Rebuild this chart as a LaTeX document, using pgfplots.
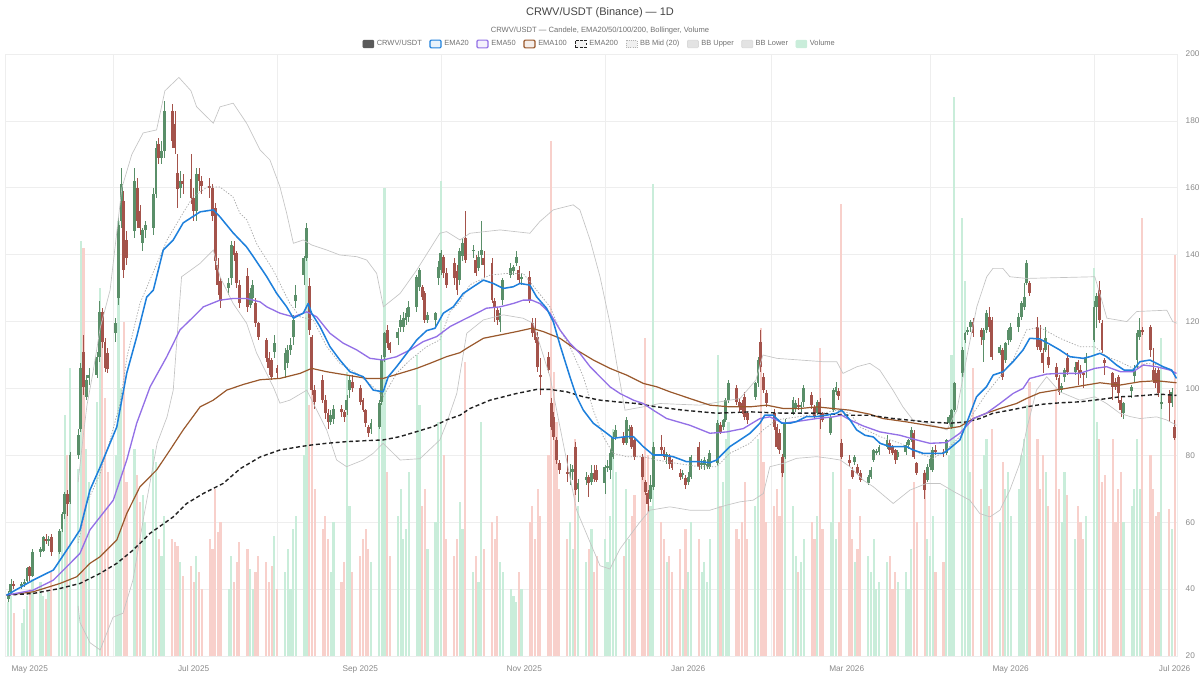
\documentclass[border=0pt]{standalone}
\usepackage{fontspec}
\setmainfont{Liberation Sans}
\usepackage{pgfplots}
\usepackage{pgfplotstable}
\pgfplotsset{compat=1.18}
\definecolor{upc}{HTML}{5A8F69}
\definecolor{dnc}{HTML}{A4534B}
\definecolor{volup}{HTML}{C9EDDA}
\definecolor{voldn}{HTML}{F8D0CB}
\definecolor{emaA}{HTML}{1E80DC}
\definecolor{emaB}{HTML}{9370E6}
\definecolor{emaC}{HTML}{99582C}
\definecolor{emaD}{HTML}{222222}
\definecolor{bbc}{HTML}{C4C4C4}
\definecolor{bbm}{HTML}{A8A8A8}
\definecolor{gridc}{HTML}{EEEEEE}
\definecolor{labc}{HTML}{8A8A8A}
\definecolor{legc}{HTML}{707070}
\definecolor{titc}{HTML}{444444}
\definecolor{candc}{HTML}{5A5A5A}

\pgfplotstableread{
t o h l c v
-8 37 39.5 36 38.5 36
-7 39 43 38.5 41.5 38
-6 41.5 42.5 40 41 33
-3 41 42 40 41.5 30
-2 41.5 43 40.5 42 34
-1 42.3 46.5 41.5 46.3 38
0 46.5 47 42.5 43.8 40
1 44 52 43.5 51 43
4 51 52.5 49.5 52 42
5 51.5 56 51 55.5 38
6 55 56.5 53.5 54.5 37
7 54.5 56 53 55 39
8 55.5 56.5 50 51 45
11 51 58 50.5 57.5 55
12 58 63 57 62.5 60
13 62.5 69 61 68.5 92
14 68.5 69.5 62 65.5 80
15 66 81 65.5 80 106
18 80 88 79 86 76
19 88 107.5 87 106 144
20 111 116 98 100.5 142
21 97.5 104 96.5 102.5 82
22 103 106 101 104 72
25 104 111 103 109.5 96
26 109.5 126 108 123 130
27 123 124 112 114 121
28 114 115 105 106 97
29 110.5 112 104.5 105.8 75
32 116.5 121 114 119.5 80
33 127 151 125 149 150
34 150 166 148 161 100
35 156 159 133 135.5 120
36 144.5 147 137 139 72
39 147 166 145 162 82
40 160 163 148 150 74
41 153 155 146 148 66
42 143.5 148 141 147.5 68
43 147.5 150 145 149 60
46 148 160 146 158 82
47 158 174 157 172 78
48 173 175 167 169 55
49 169 174 167 171 50
50 171 186 169 183 62
53 183 185 172 174 55
54 179 183 170 172 54
55 164.5 170 154 159.5 53
56 160 165 157 162 48
57 162 164 158 161 44
60 162.5 170 155 157 47
61 157 160 150 153 42
62 153 166 150 164 50
63 164 166 159 162 45
64 162 163.5 158 160.5 40
67 160.5 163 157 160 55
68 160 161 150 151.5 52
69 154 155.5 135.5 138 70
70 137 139 128 131 57
71 132 133 124 126 60
74 130 133 128 131.5 40
75 133 144 131 143 50
76 142.5 144 138 140 42
77 140.5 141 130 131.5 48
78 131 132.5 124 125.5 54
81 133.5 136 123 124.5 52
82 125 130 124 128.5 46
83 127 132.5 125.5 131 40
84 125.5 127 118.5 119.5 45
85 119.5 120 114.5 115.5 50
88 114.5 115 108 109 48
89 109 111 104 106 42
90 108.5 109 102.5 103.5 47
91 111 116 109 113.5 56
92 106 107 103 104.6 40
95 105.5 112 103 110.5 45
96 107.5 113 106 111.5 52
97 111.5 115 110 113 40
98 115.5 122 113 120.5 58
99 126 131 124 128 62
102 134 139.5 131 139 80
103 139 149.5 138 148 148
104 130.5 133 116 117.5 95
105 115.5 116 98 99.5 110
106 99.5 101 94 96 70
109 102.5 104 95.5 96.5 58
110 96.5 98 91 92.6 62
111 92.6 94 88 90 55
112 90 93.5 89 92 45
113 91 95 89.5 94 60
116 94 95 91.5 93 42
117 93 93.5 90 91.5 48
118 93.5 98 92 96.5 105
119 99.5 104 97 102.5 65
120 102 104 99 100 45
123 100 101 95 96 50
124 96.5 97 93 93.5 55
125 93.5 94 88.5 89.6 58
126 88.5 89 85.5 86.8 52
127 88 91 86.5 89.6 48
130 88.5 96.5 88 95.6 90
131 96 110 95 108.5 105
132 109.5 117 108 116.6 160
133 117.5 119 112 113.6 75
134 113.6 114 110.5 111.5 50
137 115 118 113 117 62
138 118.4 122 117 120.5 70
139 118.4 123 117 121 55
140 120.5 124 119 122.5 58
141 121.4 126 120 124.3 75
144 124.3 134 123 133.3 110
145 130.3 136 129 135.4 95
146 130.3 131 126.5 127.3 65
147 128.5 129 119.5 120.5 70
148 120.5 123 119.5 122 52
151 120.5 123 118 122.5 60
152 133 138 131 136.3 90
153 135.4 141.5 134 140.5 162
154 139.3 140 133 134.5 80
155 134.5 136 130 131 55
158 137.5 139 131 133 50
159 135 137 128 129.5 55
160 132.5 142 131 141 66
161 139.5 145 138 143.5 58
162 145 153 137.5 138.5 108
165 141 143 139 141.5 45
166 138.5 140 133.5 134.5 50
167 136 141 135 139.3 42
168 140 150 137 141.4 90
169 139 141 133 137 52
172 137.5 139 125.5 126.5 60
173 126 127 120 124.3 55
174 123.4 124.5 119 120.5 62
175 120 124 117 122.5 48
176 126.5 133 125 132.4 45
179 134 137.5 133 136 40
180 135 137 134 136.3 38
181 137.5 141 136.5 139.3 36
182 135.4 136.5 131.5 132.4 45
183 133 134.5 131 133.3 40
186 133.3 135 125.5 126.4 60
187 119.5 121 115.5 116.6 65
188 118.4 121 113.5 114.5 55
189 115.4 117 105 106.4 70
190 104 109 98 103.4 62
193 109.4 111 104.5 105.5 80
194 95.6 97 87.5 88.5 174
195 91.5 93 84.5 85.5 105
196 84.6 85.5 77.5 78.6 90
197 77.6 78.5 74.5 75.6 70
200 75 80 72 74.5 55
201 74.5 77.5 71 75 60
202 75 77 72.5 76 52
203 82.5 84 68 69.6 85
204 70 73 66 71.7 65
207 72.5 75 71 73.5 48
208 73.5 74 67.5 71.7 52
209 72 77 71 74.7 58
210 74.7 77 72 73 45
211 75.6 77 72 72.6 50
214 71.7 77 68.5 76.5 55
215 76.5 78.5 75 76.5 48
216 75.6 82 73 80.7 62
217 79.5 87 79 85.5 88
218 85.5 89 84.5 87.5 75
221 85.5 87 83 83.7 50
222 83.7 91.5 83 90.5 70
223 87.6 89 85 87.6 55
224 88.5 89 82 82.5 62
225 84.6 85 78.5 79.5 68
228 79.5 80.5 72.5 73.5 75
229 72 72.5 68 69 115
230 68.7 69.5 63 65.5 80
231 67 74 66 71 65
232 70.5 84 69.5 82.5 161
235 82.5 86 80 81.5 60
236 81.5 82.5 78.5 79.5 55
237 79.5 81 77.5 80.5 48
238 79.5 80.5 76 77.5 50
239 78.5 79 75.5 76.2 45
242 74.7 76 72.5 73.5 52
243 74 75.5 73 74.7 40
244 73.2 74 70 71.1 58
245 72 75 71 73.5 45
246 73.5 80 73 79.5 60
249 82.5 84 75.5 76.5 55
250 77 79 76 77.7 45
251 77 79.5 75.5 78.6 48
252 77 79 76 77.5 42
253 76.5 81.5 76 80.7 55
256 77.7 90.5 77 89.6 110
257 89 90 86.5 87 65
258 88.5 91 87.5 90.5 72
259 90.5 97 90 96.5 85
260 96.5 102.5 95.5 101.6 90
263 100 101 95 96 58
264 96 97 93 94.5 55
265 95.6 96.5 92.5 93.5 60
266 97.5 99 90.5 91.5 72
267 92.6 93 89.5 90.5 55
270 97.5 102 96.5 101.6 65
271 101.6 109.5 100.5 108.5 85
272 113.9 117.5 105 106.4 118
273 103.4 104.5 98.5 99.5 78
274 98.6 99.5 94.5 95.6 60
277 92.6 94 87.5 88.5 65
278 88.5 89.5 82 82.5 70
279 86.7 88 80.5 81.6 62
280 79.5 80.5 73.5 74.7 75
281 79.5 91 79 89.6 80
284 92.6 97.5 92 96.5 65
285 94 96.5 93 95.6 50
286 95 97 93.5 94.5 45
287 94.5 96 93 95 48
288 96 101 94.5 100 55
291 98 99 94 95 60
292 94.5 95 91 91.5 55
293 92.6 96.5 92 96 62
294 96 97 88 92.6 112
295 92.6 93 90 90.5 58
298 86.6 92 86 91.5 60
299 93.5 100 93 99.5 75
300 99 102 98 100.5 55
301 99.1 100 96.5 97.6 60
302 83.7 85 79 79.5 155
305 78.6 80 76.5 77.6 70
306 75.6 76.5 73 73.5 55
307 77.9 80 77 79.5 48
308 76.5 77.5 74 74.7 52
309 74.7 75.5 72 72.6 62
312 71.7 74 71 73.5 50
313 73.5 76.5 73 75.5 45
314 78.6 82 78 81.6 55
315 81 82 80 81 40
316 81 83 80 82.5 42
319 82.5 86 82 84.6 48
320 83.7 84.5 80.5 81.6 50
321 82.5 83 80 80.7 40
322 81.6 82 77.5 78.6 45
323 79.5 81.5 78.5 81 42
326 81 84 80 83 45
327 83 85 82 84.5 40
328 84.6 88.5 84 87.6 52
329 86.7 87.5 79 79.5 72
330 77.6 78 74 74.7 60
333 74.7 75.5 67 69.6 75
334 72.6 77.5 72 76.5 55
335 76.5 80 75.5 79 50
336 75.6 82.5 75 81.6 62
337 81.6 83 80 81 45
340 81 82 79.5 80.7 48
341 80.7 85 80 84.6 70
342 89.6 92 89 91.5 80
343 88.5 94 88 93.5 110
344 93.5 102 93 101.6 187
347 104.6 112.5 103.5 111.5 151
348 114.5 117 113.5 116.6 132
349 117 118.5 116 117.5 90
350 118.4 120.5 117 119.9 75
351 119.9 121 115.5 116.6 106
354 117.5 118 113 115.4 70
355 114.5 118 108 117.5 80
356 117.5 123.5 116.5 122.5 85
357 121.4 124.5 117 118.4 65
358 120.5 121.5 108.5 109.4 88
361 110.6 113 110 112.4 60
362 111.5 112 102.5 103.4 78
363 108.5 114 107.5 113.6 70
364 114.5 118 113 117.5 75
365 114.5 119.5 114 118.4 62
368 118.4 122.5 117 121.4 70
369 121.4 126 120.5 125.5 80
370 124.3 131.5 123.5 127.3 85
371 131.5 138.5 131 137.5 95
372 131.5 132 127.5 128.5 102
375 118.4 121.5 111.5 112.4 85
376 114.5 119 111 111.5 70
377 110.6 112 104.5 107.6 80
378 111.5 118.5 111 115 75
379 109.4 113 106 107 65
382 106.4 107.5 102.5 103.4 100
383 103 104 98 99 70
384 99.5 101.5 98.5 100.6 60
385 103.4 106 102 105.5 75
386 109.1 110.5 104 104.9 68
389 105 108 104 106.5 55
390 107.9 108.5 101 105.5 65
391 105.5 107 103 104.5 60
392 104.5 105 100 104 55
393 107.5 110.5 103 109.1 62
396 114.5 126 114 124.3 136
397 124.3 128.5 118 127.5 90
398 129.4 132 119.5 120.5 85
399 119.5 120.5 110.5 111.5 72
400 108.5 109 104 107.6 74
403 104.6 105 96.5 100.4 85
404 101.9 103 99.5 100.4 60
405 103.4 104 95.5 98.6 70
406 96.5 97.5 91.5 93.5 75
407 92.6 96 91 95.6 60
410 99.1 101 97 100.4 65
411 103.7 107 101.5 105.5 70
412 108.5 117.5 106 116.6 85
413 115.4 121 114.5 117.5 70
414 117.5 118.5 116 117 151
417 118.4 119 109.5 111.5 80
418 105.5 112 101.5 102.5 70
419 104.6 106 100 101.6 62
420 105.5 106.5 97.5 98.6 63
421 95.6 98 94 95.9 115
424 98 99.5 90 95.6 64
425 95.6 100 94.5 98.9 58
426 88.5 90.5 84.5 85.2 140
}\candles

\begin{document}
\begin{tikzpicture}[x=1pt,y=1pt]
\begin{axis}[
  at={(0,0)}, anchor=south west, scale only axis,
  width=879pt, height=451.5pt,
  xmin=-9.2, xmax=426.9, ymin=20, ymax=200,
  xtick={0,61,123,184,245,304,365,426},
  xticklabels={May 2025,Jul 2025,Sep 2025,Nov 2025,Jan 2026,Mar 2026,May 2026,Jul 2026},
  extra x ticks={31,92,153,214,276,335,396},
  extra x tick labels={},
  extra x tick style={grid=major},
  ytick={20,40,...,200},
  yticklabel pos=right,
  ymajorgrids,
  grid style={color=gridc, line width=0.5pt},
  major tick length=0pt,
  tick style={draw=none},
  tick label style={font=\fontsize{6.2}{7}\selectfont, text=labc},
  /pgf/number format/assume math mode=true,
  xticklabel style={yshift=-3.5pt},
  yticklabel style={xshift=3pt},
  axis line style={draw=gridc},
  legend columns=-1,
  legend cell align=left,
  legend style={at={(rel axis cs:0.5077,1.0166)}, anchor=center, draw=none, fill=none,
    font=\fontsize{5.6}{6.5}\selectfont, text=legc,
    /tikz/every even column/.append style={column sep=3.7pt}},
]
\coordinate (BL) at (rel axis cs:-0.004266,-0.03156);
\coordinate (TR) at (rel axis cs:1.019625,1.0897);
\coordinate (TT) at (rel axis cs:0.50768,1.0681);
\coordinate (ST) at (rel axis cs:0.50768,1.0382);
% volume
\addplot[forget plot, ycomb, mark=none, draw=volup, line width=1.65pt,
  restrict expr to domain={\thisrow{c}-\thisrow{o}}{0:1000}] table[x=t, y=v] {\candles};
\addplot[forget plot, ycomb, mark=none, draw=voldn, line width=1.65pt,
  restrict expr to domain={\thisrow{c}-\thisrow{o}}{-1000:-0.0001}] table[x=t, y=v] {\candles};
% candles: wicks
\addplot[forget plot, draw=none, mark=none,
  restrict expr to domain={\thisrow{c}-\thisrow{o}}{0:1000},
  error bars/.cd, y dir=both, y explicit, error mark=none,
  error bar style={draw=upc, solid, line width=0.5pt}]
  table[x=t, y expr={(\thisrow{h}+\thisrow{l})/2}, y error expr={(\thisrow{h}-\thisrow{l})/2}] {\candles};
\addplot[forget plot, draw=none, mark=none,
  restrict expr to domain={\thisrow{c}-\thisrow{o}}{-1000:-0.0001},
  error bars/.cd, y dir=both, y explicit, error mark=none,
  error bar style={draw=dnc, solid, line width=0.5pt}]
  table[x=t, y expr={(\thisrow{h}+\thisrow{l})/2}, y error expr={(\thisrow{h}-\thisrow{l})/2}] {\candles};
% candles: bodies
\addplot[forget plot, draw=none, mark=none,
  restrict expr to domain={\thisrow{c}-\thisrow{o}}{0:1000},
  error bars/.cd, y dir=both, y explicit, error mark=none,
  error bar style={draw=upc, solid, line width=2.15pt}]
  table[x=t, y expr={(\thisrow{o}+\thisrow{c})/2}, y error expr={max(abs(\thisrow{c}-\thisrow{o})/2,0.25)}] {\candles};
\addplot[forget plot, draw=none, mark=none,
  restrict expr to domain={\thisrow{c}-\thisrow{o}}{-1000:-0.0001},
  error bars/.cd, y dir=both, y explicit, error mark=none,
  error bar style={draw=dnc, solid, line width=2.15pt}]
  table[x=t, y expr={(\thisrow{o}+\thisrow{c})/2}, y error expr={max(abs(\thisrow{c}-\thisrow{o})/2,0.25)}] {\candles};
% Bollinger
\addplot[forget plot, draw=bbc, line width=0.5pt, mark=none] coordinates {
(18,72) (19.8,85) (21.3,95) (23.5,104.6) (26.2,118) (29.9,129.4) (34.3,160) (38,170) (42.2,176.4) (47.2,177.3) (50.3,189) (55.5,193) (60,189) (62.1,184.2) (68.3,179.3) (70.8,184.2) (75.7,185.3) (80.7,179.3) (85.7,171.3) (89.4,168.3) (93.1,160.3) (95.6,152.4) (98.1,143.4) (101.8,144.4) (104.9,142.9) (110.5,141.4) (115.4,139.9) (121.7,139.4) (125.4,138.4) (129.1,134.4) (131.6,124.4) (137.8,128.4) (144,135.4) (152.6,146.4) (155.1,146.9) (160.1,144.4) (163.8,146.4) (175,147.4) (186.1,146.4) (189.8,149.9) (194.8,153.4) (202.2,154.9) (204.7,153.4) (208.5,144.4) (212.2,133.4) (215.9,119.5) (218.4,107.5) (221.5,93.5) (228.3,94.5) (234.5,95.5) (249.4,95) (264.3,97) (270.2,102.5) (272.8,110) (278,109) (286.6,108.5) (295.1,108) (300.3,108) (302.6,104.5) (307.8,106.5) (312.6,107.5) (316.3,105.5) (321.2,99.5) (324.9,94.5) (328.6,90.6) (333.8,89.6) (341.3,87.6) (345,93.5) (348.7,109.5) (352.4,124.4) (356.1,133.4) (358.4,135.9) (362.1,135.9) (364.7,133.4) (371,132.9) (396.3,133.4) (398.9,126.4) (400.8,121) (408.2,120) (411.9,123) (423.1,123.4) (425.3,120) (426.8,119.5)};
\addplot[forget plot, draw=bbc, line width=0.5pt, mark=none] coordinates {
(18,35) (18.7,30) (22.4,24) (26.2,21.8) (31,31.6) (34.7,32.8) (38.4,42.7) (42.2,60.6) (47.4,83.6) (51.1,91.5) (53.4,99.5) (54.8,115) (56.5,133.4) (63.4,137.4) (68.3,141.4) (70.8,133.4) (75.7,125.4) (80.7,119.5) (84.4,110.6) (90.6,100.5) (93.1,95.6) (96.8,96.5) (103.1,99.5) (106.8,93.5) (110.5,87.6) (114.2,78.6) (117.9,76.6) (124.1,78.6) (127.8,80.6) (131.5,83.6) (135.3,80.6) (137.8,78.6) (145.2,79) (152.6,84.6) (155.1,89.6) (158.9,98.5) (162.6,116.5) (168.8,120.5) (176.2,122.0) (183.6,121.0) (187.3,119.5) (193.6,103.5) (198.5,83.6) (203.5,63.6) (208.5,54) (212.2,47) (215.9,46) (219.6,52) (227,60) (230.8,63.6) (238.2,64.6) (245.6,63.6) (253.1,63.6) (259.3,65.1) (264.3,66.1) (269.2,66.6) (273,68.6) (275.4,76.6) (280.4,77.6) (285.3,79.1) (292.8,79.6) (297.7,79.1) (301.6,78.6) (305.2,76.6) (310.1,72.6) (313.9,70.6) (321.3,65.6) (327.5,69.6) (333.7,71.6) (338.7,71.6) (344.2,69) (349.8,66.6) (353.5,62.6) (357.3,61.6) (361,63.6) (364.7,69.6) (368.4,77.6) (370.9,87.6) (374.6,99.5) (378.4,103.5) (383.3,99) (390.7,96.5) (396.3,97.5) (400.7,95.5) (405.6,92.6) (409.4,91.6) (413.1,91.0) (419.3,91.5) (423,90.6) (426.7,89.0)};
\addplot[forget plot, draw=bbm, line width=0.55pt, dash pattern=on 1pt off 1.2pt, mark=none] coordinates {
(18,53.8) (21.3,65.7) (26.2,74.6) (29.9,84.6) (33.6,95.5) (36.2,109.5) (41,125.4) (47.4,137.5) (51.1,144.4) (53.3,147.4) (57,152.4) (60.8,157.3) (66,160.2) (70.8,160.2) (75.6,157.3) (78.2,152.4) (80.8,150.4) (84.6,143) (90.6,135.4) (96.8,125.4) (100.6,121.4) (105.5,120.5) (110.5,112.5) (115.4,107.5) (121.7,104.5) (127.8,100.5) (131.5,97.5) (136.5,104.5) (141.5,108.5) (147.7,112.5) (152.6,114.5) (156.4,123) (160.1,126) (163.8,131) (171.3,133.9) (177.5,134.4) (183.6,134.4) (188.6,129.4) (193.6,124.4) (197.3,117.5) (201,112.5) (206,103.5) (209.7,93.5) (213.4,85.6) (217.1,80.6) (222.1,79.6) (228.3,79.6) (233.3,78.6) (240.7,77.6) (249.4,76.6) (255.6,76.6) (260.5,80.6) (268,83.6) (272.9,87.6) (277.9,90.6) (286.6,91.6) (295.3,92.6) (300.2,93.5) (305.2,92.6) (308.9,88.5) (316.4,85.6) (323.8,83.6) (331.2,80.6) (336.2,79.1) (341.1,81.6) (346.1,85.6) (351.1,92.6) (356,98.5) (361,103.5) (365.9,108.5) (370.9,117.5) (375.8,118.3) (383.3,115) (390.7,112.5) (396.3,112.5) (400.7,109.5) (405.6,108) (410.6,106) (415.5,107.5) (420.5,107) (426.7,104.5)};
% EMA100
\addplot[forget plot, draw=emaC, line width=0.9pt, mark=none, line join=round] coordinates {
(-8.6,38.2) (1.3,39.2) (11.3,41.7) (17.5,43.7) (22.4,47.7) (26.2,49.7) (32.4,54.7) (36.1,62.6) (41.0,70.6) (47.2,75.6) (52.2,81.6) (57.1,87.6) (63.4,94.5) (68.3,96.5) (73.3,99.5) (79.5,101.2) (85.7,102.6) (93.1,103.0) (100.6,104.5) (104.9,106.0) (110.5,105.0) (117.9,104.0) (125.4,103.0) (131.5,103.0) (137.8,104.5) (144.0,106.0) (148.9,107.5) (155.1,109.5) (160.1,110.7) (162.6,112.0) (168.8,115.0) (175.0,116.0) (181.2,117.0) (186.8,118.0) (191.1,117.0) (197.3,115.0) (203.5,111.5) (209.7,108.5) (215.9,106.0) (222.1,104.0) (228.3,101.5) (233.3,100.5) (238.2,99.0) (245.6,97.0) (253.1,95.0) (260.5,94.5) (268.0,94.5) (274.2,95.0) (280.4,94.0) (286.6,94.0) (292.8,94.5) (298.9,94.0) (305.2,93.5) (312.6,92.3) (317.5,91.0) (326.3,90.0) (333.7,89.0) (341.1,88.0) (346.1,88.6) (351.1,91.0) (356.0,92.6) (361.0,94.0) (367.2,95.5) (370.9,97.0) (375.8,98.7) (383.3,99.7) (390.7,100.7) (398.2,101.7) (405.6,101.0) (413.1,102.0) (419.3,102.3) (426.7,101.7)};
% EMA200
\addplot[forget plot, draw=emaD, line width=1.05pt, dash pattern=on 3pt off 2pt, mark=none] coordinates {
(-8.6,38.2) (1.3,38.7) (11.3,40.2) (18.7,41.7) (26.2,44.7) (32.4,47.7) (38.5,51.7) (44.8,56.7) (53.4,61.6) (58.4,65.6) (64.6,68.6) (72.0,71.6) (78.3,76.0) (85.7,79.5) (93.1,81.6) (100.6,82.6) (104.9,83.1) (110.5,83.6) (117.9,84.1) (125.4,84.4) (131.5,84.6) (137.8,85.6) (144.0,87.1) (150.2,88.6) (155.1,90.6) (160.1,92.0) (163.8,94.0) (171.3,96.5) (181.2,98.5) (188.6,99.7) (193.6,99.7) (199.8,99.0) (206.0,97.5) (212.2,96.5) (218.4,96.0) (225.8,95.5) (233.3,94.5) (243.2,93.5) (255.6,92.6) (268.0,93.0) (280.4,92.6) (292.8,92.6) (305.2,92.0) (312.6,92.0) (321.3,91.0) (333.7,90.0) (342.4,89.6) (348.6,90.0) (353.5,91.0) (358.5,92.6) (364.7,93.5) (370.9,94.5) (377.1,95.3) (383.3,95.7) (390.7,96.0) (398.2,96.7) (405.6,97.5) (413.1,97.8) (420.5,98.3) (426.7,97.9)};
% EMA50
\addplot[forget plot, draw=emaB, line width=1.0pt, mark=none, line join=round] coordinates {
(-8.6,38.2) (1.3,39.7) (8.8,42.7) (13.8,46.7) (18.7,50.7) (22.4,57.7) (26.2,61.6) (31.1,66.6) (36.1,78.6) (39.8,89.6) (44.8,100.5) (51.0,109.5) (55.9,117.5) (60.9,121.4) (64.6,124.4) (70.8,126.4) (75.7,126.9) (80.7,126.9) (85.7,125.9) (88.2,124.4) (93.1,122.5) (98.1,121.4) (103.1,122.9) (106.8,121.4) (111.7,116.5) (116.7,113.5) (121.7,111.5) (126.6,109.0) (131.5,108.5) (136.5,109.5) (141.5,111.5) (146.4,114.0) (151.4,115.5) (156.4,118.5) (161.3,120.5) (166.3,122.5) (170.0,124.0) (175.0,124.4) (179.9,125.4) (183.6,126.4) (186.8,126.4) (189.8,125.4) (193.6,122.5) (197.3,117.5) (201.0,113.5) (204.7,110.5) (208.5,106.5) (212.2,103.5) (215.9,100.5) (219.6,98.5) (224.6,96.5) (228.3,95.5) (232.0,93.5) (237.0,91.0) (245.6,89.0) (253.1,86.6) (259.3,87.0) (265.5,88.0) (271.7,91.0) (275.4,91.5) (280.4,89.6) (285.3,90.1) (292.8,91.0) (298.9,91.5) (302.1,92.0) (305.2,90.6) (310.1,88.8) (316.4,87.0) (323.8,86.0) (330.0,84.6) (334.9,83.6) (341.1,83.8) (346.1,86.6) (351.1,91.0) (356.0,92.6) (361.0,95.5) (365.9,98.5) (369.6,100.0) (372.1,103.0) (378.4,104.3) (383.3,104.5) (390.7,104.5) (396.3,106.0) (400.7,106.5) (405.9,105.0) (410.6,105.0) (414.3,107.0) (419.3,106.5) (424.2,105.5) (426.7,104.5)};
% EMA20
\addplot[forget plot, draw=emaA, line width=1.15pt, mark=none, line join=round] coordinates {
(-8.6,38.2) (1.3,42.7) (8.8,45.7) (13.8,51.7) (18.7,57.7) (22.4,69.6) (26.2,76.5) (32.4,88.5) (36.1,104.6) (39.8,115.4) (43.5,127.3) (46.0,129.4) (49.7,141.4) (53.4,144.4) (57.1,149.5) (63.4,152.8) (68.3,153.4) (70.8,151.3) (75.7,146.5) (80.7,142.3) (83.2,139.4) (88.2,133.4) (91.9,128.4) (95.6,124.4) (98.1,121.0) (101.8,122.5) (103.6,125.4) (104.9,122.5) (108.0,118.5) (111.7,112.5) (115.4,108.5) (119.1,105.0) (124.1,103.5) (127.8,99.5) (131.5,99.0) (133.4,103.5) (136.5,106.5) (140.3,110.5) (144.0,114.5) (147.7,117.3) (150.8,118.0) (153.9,122.5) (157.6,124.4) (161.3,128.4) (165.0,130.4) (168.8,132.4) (172.5,131.4) (176.2,129.9) (179.9,130.4) (182.4,131.4) (186.1,130.9) (188.6,127.4) (192.3,124.0) (194.8,120.0) (197.3,113.0) (201.0,103.5) (203.5,97.5) (206.0,93.5) (209.7,89.6) (214.7,86.6) (217.1,85.1) (222.1,85.6) (224.6,85.6) (228.3,82.6) (232.0,80.1) (235.7,80.1) (239.4,79.6) (244.4,78.1) (249.4,78.1) (253.1,77.8) (255.6,78.6) (258.0,80.6) (260.5,82.6) (264.3,84.6) (268.0,86.6) (271.7,89.6) (273.5,92.0) (276.6,92.0) (279.8,89.6) (282.9,89.6) (285.3,90.1) (289.1,91.6) (292.8,91.6) (296.5,92.0) (300.2,92.6) (302.1,93.5) (305.2,90.6) (307.7,87.6) (310.8,86.0) (313.9,85.5) (316.4,83.6) (320.1,82.6) (326.3,82.6) (328.7,81.6) (332.4,80.6) (339.9,80.6) (342.4,82.1) (346.1,84.6) (348.6,89.6) (352.3,97.5) (356.0,100.5) (358.5,104.0) (362.2,105.0) (365.9,108.0) (369.6,111.5) (372.1,115.0) (375.8,114.8) (379.6,113.2) (383.3,111.5) (387.0,109.5) (392.0,109.0) (394.5,109.5) (398.2,110.5) (400.7,109.5) (404.4,107.0) (407.2,105.5) (410.6,105.5) (413.1,108.0) (416.8,108.5) (419.3,107.5) (421.7,106.5) (424.9,105.5) (426.7,103.0)};
% legend
\addlegendimage{legend image code/.code={\draw[fill=candc, draw=candc, rounded corners=0.8pt] (0pt,-2.9pt) rectangle (8.25pt,2.9pt);}}
\addlegendentry{CRWV/USDT}
\addlegendimage{legend image code/.code={\draw[fill=emaA!10, draw=emaA, line width=0.9pt, rounded corners=0.8pt] (0pt,-2.9pt) rectangle (8.25pt,2.9pt);}}
\addlegendentry{EMA20}
\addlegendimage{legend image code/.code={\draw[fill=emaB!10, draw=emaB, line width=0.9pt, rounded corners=0.8pt] (0pt,-2.9pt) rectangle (8.25pt,2.9pt);}}
\addlegendentry{EMA50}
\addlegendimage{legend image code/.code={\draw[fill=emaC!10, draw=emaC, line width=0.9pt, rounded corners=0.8pt] (0pt,-2.9pt) rectangle (8.25pt,2.9pt);}}
\addlegendentry{EMA100}
\addlegendimage{legend image code/.code={\draw[fill=gray!10, draw=emaD, line width=0.9pt, dash pattern=on 2pt off 1.2pt] (0pt,-2.9pt) rectangle (8.25pt,2.9pt);}}
\addlegendentry{EMA200}
\addlegendimage{legend image code/.code={\draw[fill=gray!12, draw=gray!60, line width=0.6pt, dash pattern=on 0.8pt off 0.8pt] (0pt,-2.9pt) rectangle (8.25pt,2.9pt);}}
\addlegendentry{BB Mid (20)}
\addlegendimage{legend image code/.code={\draw[fill=gray!22, draw=gray!30, line width=0.5pt, rounded corners=0.8pt] (0pt,-2.9pt) rectangle (8.25pt,2.9pt);}}
\addlegendentry{BB Upper}
\addlegendimage{legend image code/.code={\draw[fill=gray!22, draw=gray!30, line width=0.5pt, rounded corners=0.8pt] (0pt,-2.9pt) rectangle (8.25pt,2.9pt);}}
\addlegendentry{BB Lower}
\addlegendimage{legend image code/.code={\draw[fill=volup, draw=volup, rounded corners=0.8pt] (0pt,-2.9pt) rectangle (8.25pt,2.9pt);}}
\addlegendentry{Volume}
\end{axis}
\pgfresetboundingbox
\useasboundingbox (BL) rectangle (TR);
\node[font=\fontsize{8.25}{10}\selectfont, text=titc] at (TT) {CRWV/USDT (Binance) — 1D};
\node[font=\fontsize{5.7}{7}\selectfont, text=legc] at (ST) {CRWV/USDT — Candele, EMA20/50/100/200, Bollinger, Volume};
\end{tikzpicture}
\end{document}
